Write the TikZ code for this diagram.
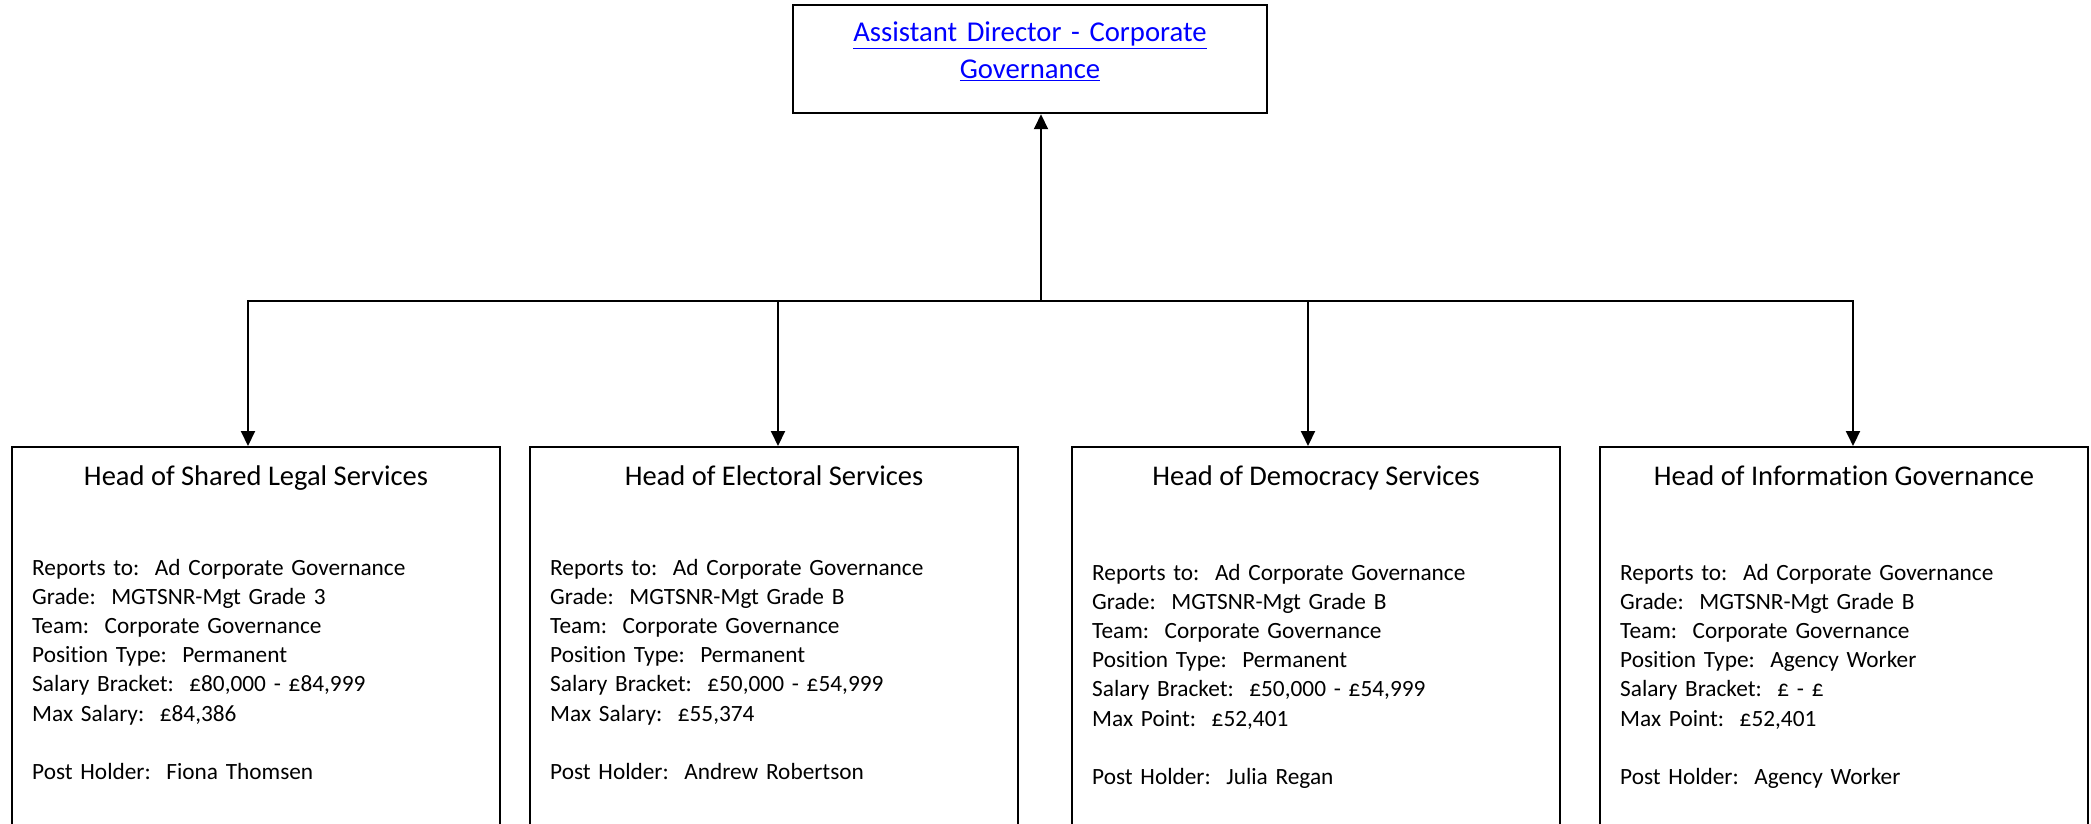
\documentclass[tikz,border=0pt]{standalone}
\usepackage{fontspec}
\setmainfont{Carlito}[Ligatures=NoCommon]
\usetikzlibrary{positioning,arrows.meta}
\frenchspacing

\begin{document}
\begin{tikzpicture}[
        x=1pt, y=1pt,                 % one unit = one pixel of the chart
        post/.style={
            rectangle,
            draw,
            line width=2pt,
            minimum width=488pt,
            minimum height=420pt,     % runs off the bottom edge
            inner sep=0pt
        },
        head/.style={anchor=base, inner sep=0pt, font=\fontsize{28.5}{34}\selectfont},
        details/.style={anchor=base west, inner sep=0pt, text width=460pt, align=left,
            font=\fontsize{23.3}{29.2}\selectfont},
        arrow/.style={-{Triangle[width=14pt,length=15pt]}, line width=2pt}
    ]
        \clip (0,0) rectangle (2091,-824);

        % director
        \node[rectangle, draw, line width=2.5pt, minimum width=474pt, minimum height=108pt] (ad) at (1030,-59) {};
        \node[anchor=base, inner sep=0pt, text width=440pt, align=center, text=blue,
            font=\fontsize{28.7}{37}\selectfont]
            (adtext) at ([yshift=-38pt]ad.north) {\underline{Assistant Director - Corporate}\\ \underline{Governance}};

        % heads of service
        \node[post, anchor=north west] (legal) at (11,-446) {};
        \node[post, right=28pt of legal] (electoral) {};
        \node[post, right=52pt of electoral] (democracy) {};
        \node[post, right=38pt of democracy] (info) {};

        \node[head] (legaltitle) at ([yshift=-39pt]legal.north) {Head of Shared Legal Services};
        \node[head] (electoraltitle) at ([yshift=-39pt]electoral.north) {Head of Electoral Services};
        \node[head] (democracytitle) at ([yshift=-39pt]democracy.north) {Head of Democracy Services};
        \node[head] (infotitle) at ([yshift=-39pt]info.north) {Head of Information Governance};

        \node[details] (legaltext) at ([xshift=21pt,yshift=-129pt]legal.north west) {Reports to:~ Ad Corporate Governance\\
            Grade:~ MGTSNR-Mgt Grade 3\\ Team:~ Corporate Governance\\ Position Type:~ Permanent\\
            Salary Bracket:~ £80,000 - £84,999\\ Max Salary:~ £84,386\\[29.2pt] Post Holder:~ Fiona Thomsen};
        \node[details] (electoraltext) at ([xshift=21pt,yshift=-129pt]electoral.north west) {Reports to:~ Ad Corporate Governance\\
            Grade:~ MGTSNR-Mgt Grade B\\ Team:~ Corporate Governance\\ Position Type:~ Permanent\\
            Salary Bracket:~ £50,000 - £54,999\\ Max Salary:~ £55,374\\[29.2pt] Post Holder:~ Andrew Robertson};
        \node[details] (democracytext) at ([xshift=21pt,yshift=-134pt]democracy.north west) {Reports to:~ Ad Corporate Governance\\
            Grade:~ MGTSNR-Mgt Grade B\\ Team:~ Corporate Governance\\ Position Type:~ Permanent\\
            Salary Bracket:~ £50,000 - £54,999\\ Max Point:~ £52,401\\[29.2pt] Post Holder:~ Julia Regan};
        \node[details] (infotext) at ([xshift=21pt,yshift=-134pt]info.north west) {Reports to:~ Ad Corporate Governance\\
            Grade:~ MGTSNR-Mgt Grade B\\ Team:~ Corporate Governance\\ Position Type:~ Agency Worker\\
            Salary Bracket:~ £ - £\\ Max Point:~ £52,401\\[29.2pt] Post Holder:~ Agency Worker};

        % connectors
        \coordinate (bus) at (1041,-301);
        \draw[arrow] (bus) -- ([xshift=11pt]ad.south);
        \draw[arrow] (bus) -| ([xshift=-8pt]legal.north);
        \draw[arrow] (bus) -| ([xshift=4pt]electoral.north);
        \draw[arrow] (bus) -| ([xshift=-8pt]democracy.north);
        \draw[arrow] (bus) -| ([xshift=9pt]info.north);
    \end{tikzpicture}
\end{document}
